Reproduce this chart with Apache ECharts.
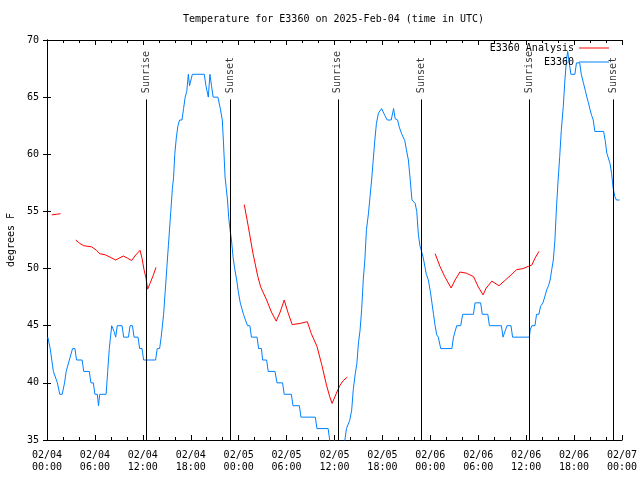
<!DOCTYPE html>
<html><head><meta charset="utf-8">
<script src="https://cdn.jsdelivr.net/npm/echarts@6/dist/echarts.min.js"></script>
<style>html,body{margin:0;padding:0;background:#fff}#c{width:640px;height:480px}</style>
</head><body><div id="c"></div>
<script>
const titleText = 'Temperature for E3360 on 2025-Feb-04 (time in UTC)';
const xTickLabels = ['02/04\n00:00','02/04\n06:00','02/04\n12:00','02/04\n18:00','02/05\n00:00','02/05\n06:00','02/05\n12:00','02/05\n18:00','02/06\n00:00','02/06\n06:00','02/06\n12:00','02/06\n18:00','02/07\n00:00'];

// Observed E3360 (hours since 02/04 00:00 UTC, degrees F)
const obsHours = [0.1,0.4,0.6,0.8,1.0,1.3,1.6,1.9,2.2,2.4,2.6,2.8,3.2,3.5,3.7,4.4,4.6,5.3,5.5,5.8,6.0,6.3,6.45,6.6,7.4,7.6,7.8,7.95,8.1,8.4,8.6,8.8,9.4,9.6,10.2,10.4,10.7,10.9,11.4,11.6,11.9,12.1,13.6,13.8,14.1,14.3,14.6,14.8,15.0,15.2,15.4,15.5,15.7,15.85,16.0,16.2,16.4,16.6,16.9,17.1,17.3,17.5,17.7,17.85,18.0,18.2,19.7,19.9,20.2,20.4,20.6,20.8,21.4,21.7,21.95,22.1,22.3,22.45,22.6,22.75,22.9,23.1,23.3,23.5,23.75,23.95,24.2,24.4,24.6,24.85,25.1,25.4,25.6,26.3,26.5,26.85,27.0,27.5,27.7,28.55,28.8,29.5,29.7,30.6,30.8,31.6,31.8,33.6,33.8,35.2,35.4,35.6,37.0,37.3,37.5,37.7,37.9,38.15,38.35,38.6,38.8,39.0,39.2,39.4,39.6,39.8,40.0,40.25,40.45,40.65,40.85,41.05,41.25,41.5,41.9,42.0,42.3,42.6,43.1,43.4,43.6,43.9,44.1,44.4,44.8,45.0,45.25,45.45,45.7,46.1,46.3,46.5,46.7,46.9,47.1,47.5,47.75,48.0,48.2,48.4,48.6,48.8,49.0,49.3,50.7,50.9,51.1,51.3,51.8,52.05,53.4,53.6,54.3,54.5,55.2,55.4,56.9,57.1,57.3,57.6,58.1,58.3,60.4,60.5,60.7,61.1,61.3,61.6,61.8,62.1,62.4,62.6,62.8,63.0,63.2,63.4,63.6,63.8,64.0,64.2,64.4,64.65,64.85,65.05,65.2,65.4,65.6,66.1,66.3,66.7,66.9,67.15,67.4,67.6,67.8,68.0,68.2,68.4,68.6,69.7,69.9,70.1,70.3,70.5,70.7,70.9,71.1,71.3,71.7];
const obsTemps = [44,43,42,41,41,40,39,39,40,41,41,42,43,43,42,42,41,41,40,40,39,39,38,39,39,41,43,44,45,44.5,44,45,45,44,44,45,45,44,44,43,43,42,42,43,43,44,46,48,50,52,54,55,57,58,60,61.5,62.5,63,63,64,65,65.5,67,66,66,67,67,66,65,67,66,65,65,64,63,61,58,57,56,54.5,53.5,52.5,51,50,49,48,47,47,46,46,45,45,44,44,43,43,42,42,41,41,40,40,39,39,38,38,37,37,36,36,35,34,34,35,36,36,36.7,37.6,39.4,40.8,41.7,43.5,44.6,46.4,49,50.75,53.4,54.8,56.3,57.75,59.5,61.25,62.7,63.6,64,63.9,63.4,63,63,64,63.1,63,62.4,61.8,61.2,60.4,59.5,58,56,55.7,55,53,52,51.5,51,49.5,49,48,47,46,45,44.2,44,43,43,44,44,45,45,46,46,47,47,46,46,45,45,44,44,45,45,44,44,44.6,45,45,46,46,46.7,47,47.7,48.2,48.5,49,49.9,50.75,52.5,55.4,57.75,59.8,62.1,64.2,66.5,68.25,69,68,67,67,68,68,67,66.3,65.6,65,64.5,63.9,63.4,63,62,62,61.2,60.1,60,59.2,58.3,57,56.3,56,56];

// E3360 Analysis (null = no data)
const anaHours = [0.6,1.2,1.7,2.6,3.6,4.1,4.6,5.6,6.2,6.6,7.3,7.9,8.6,9.0,9.55,10.1,10.6,11.0,11.65,11.9,12.15,12.4,12.6,12.9,13.3,13.65,19.0,24.7,25.2,25.8,26.4,26.75,27.5,28.1,28.7,29.2,29.7,30.2,30.7,31.7,32.6,33.1,33.8,34.4,35.0,35.4,35.7,36.3,36.7,37.1,37.6,43.0,48.6,49.2,49.8,50.6,51.1,51.7,52.5,53.4,54.0,54.6,55.0,55.7,56.6,57.4,58.2,58.8,59.6,60.3,60.7,61.1,61.6];
const anaTemps = [54.7,54.75,54.8,null,52.5,52.2,52.0,51.9,51.6,51.3,51.2,51.0,50.75,50.9,51.1,50.9,50.7,51.1,51.6,50.9,49.9,49.15,48.2,48.7,49.4,50.1,null,55.6,53.7,51.3,49.3,48.4,47.25,46.2,45.4,46.2,47.25,46.1,45.1,45.2,45.35,44.3,43.2,41.6,39.8,38.8,38.2,39.2,39.8,40.2,40.5,null,51.3,50.2,49.3,48.3,49.0,49.7,49.6,49.3,48.4,47.7,48.3,48.9,48.5,49.0,49.5,49.9,50.0,50.2,50.3,50.9,51.5];

const sunNames = ['Sunrise','Sunset','Sunrise','Sunset','Sunrise','Sunset'];
const sunHours = [12.42,22.92,36.42,46.9,60.38,70.95];

const FONT = 'DejaVu Sans Mono';
const yMin = 35, yMax = 70;
const sunLineTop = 64.8, sunLabelY = 65.35;

const chart = echarts.init(document.getElementById('c'), null, {renderer: 'canvas'});
const axisCommon = {
  axisLine: {show: true, lineStyle: {color: '#000', width: 1}},
  splitLine: {show: false},
};
chart.setOption({
  animation: false,
  backgroundColor: '#fff',
  textStyle: {fontFamily: FONT, color: '#000'},
  title: {text: titleText, left: 178, top: 9, textStyle: {fontFamily: FONT, fontSize: 10, fontWeight: 'normal', color: '#000'}},
  legend: {
    orient: 'vertical', right: 26, top: 38, align: 'right', itemGap: 4,
    itemWidth: 30, itemHeight: 1, icon: 'rect',
    textStyle: {fontFamily: FONT, fontSize: 10, color: '#000'},
    data: ['E3360 Analysis', 'E3360']
  },
  grid: {left: 47, right: 18, top: 40, bottom: 40, containLabel: false, outerBoundsMode: 'none'},
  xAxis: [{
    type: 'value', min: 0, max: 72, interval: 6, position: 'bottom',
    ...axisCommon,
    axisTick: {show: true, inside: true, length: 5, lineStyle: {color: '#000'}},
    minorTick: {show: true, splitNumber: 3, length: 3, lineStyle: {color: '#000'}},
    axisLabel: {fontFamily: FONT, fontSize: 10, color: '#000', margin: 9, lineHeight: 12,
      formatter: v => xTickLabels[Math.round(v / 6)]}
  }, {
    type: 'value', min: 0, max: 72, interval: 6, position: 'top',
    ...axisCommon,
    axisTick: {show: true, inside: true, length: 5, lineStyle: {color: '#000'}},
    minorTick: {show: true, splitNumber: 3, length: 3, lineStyle: {color: '#000'}},
    axisLabel: {show: false}
  }],
  yAxis: [{
    type: 'value', min: yMin, max: yMax, interval: 5, position: 'left',
    ...axisCommon,
    name: 'degrees F', nameLocation: 'middle', nameGap: 31, nameRotate: 90,
    nameTextStyle: {fontFamily: FONT, fontSize: 10, color: '#000'},
    axisTick: {show: true, inside: true, length: 4, lineStyle: {color: '#000'}},
    axisLabel: {fontFamily: FONT, fontSize: 10, color: '#000', margin: 8}
  }, {
    type: 'value', min: yMin, max: yMax, interval: 5, position: 'right',
    ...axisCommon,
    axisTick: {show: true, inside: true, length: 4, lineStyle: {color: '#000'}},
    axisLabel: {show: false}
  }],
  series: [
    {
      name: 'E3360 Analysis', type: 'line', xAxisIndex: 0, yAxisIndex: 0,
      data: anaHours.map((h, i) => [h, anaTemps[i] === null ? '-' : anaTemps[i]]),
      symbol: 'none', connectNulls: false, clip: true,
      lineStyle: {color: '#ff0000', width: 1}, itemStyle: {color: '#ff0000'}, z: 3
    },
    {
      name: 'E3360', type: 'line', xAxisIndex: 0, yAxisIndex: 0,
      data: obsHours.map((h, i) => [h, obsTemps[i]]),
      symbol: 'none', clip: true,
      lineStyle: {color: '#0080ff', width: 1}, itemStyle: {color: '#0080ff'}, z: 3,
      markLine: {
        silent: true, symbol: ['none', 'none'], label: {show: false},
        lineStyle: {color: '#000', width: 1, type: 'solid'},
        data: sunHours.map(h => [{coord: [h, yMin]}, {coord: [h, sunLineTop]}])
      }
    },
    {
      name: 'sun', type: 'scatter', xAxisIndex: 0, yAxisIndex: 0,
      symbolSize: 0, silent: true,
      data: sunHours.map((h, i) => ({value: [h, sunLabelY], name: sunNames[i]})),
      label: {show: true, position: 'inside', rotate: 90, align: 'left', verticalAlign: 'middle',
        formatter: p => p.name, fontFamily: FONT, fontSize: 10, color: '#000'},
      z: 2
    }
  ]
});
</script></body></html>
